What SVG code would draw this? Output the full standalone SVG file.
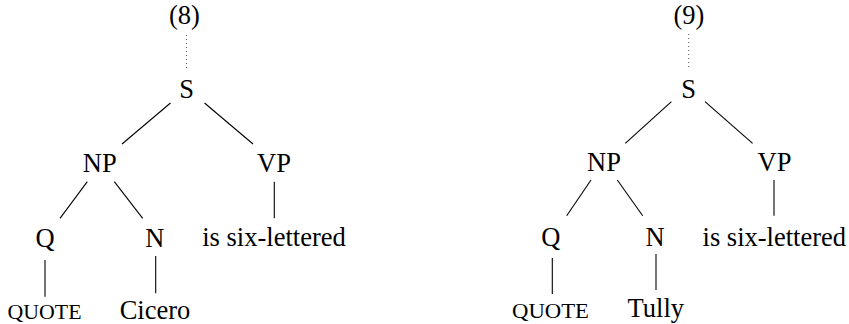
<svg xmlns="http://www.w3.org/2000/svg" width="849" height="324" viewBox="0 0 849 324">
<style>
  text { font-family: "Liberation Serif", "DejaVu Serif", "Times New Roman", Tinos, serif; font-size: 26.5px; fill: #000; text-anchor: middle; }
  text.sc { font-size: 20px; }
  .edge { stroke: #000; stroke-width: 1.1; fill: none; }
  .dot { stroke: #555; stroke-width: 1; stroke-dasharray: 1 3; fill: none; }
</style>
<rect width="849" height="324" fill="#fff"/>
<g id="connectors">
  <line class="dot" x1="186.5" y1="35" x2="186.5" y2="71"/>
  <line class="edge" x1="170.5" y1="103" x2="122" y2="144"/>
  <line class="edge" x1="204.5" y1="103" x2="253" y2="144"/>
  <line class="edge" x1="87.3" y1="181.7" x2="60" y2="218.3"/>
  <line class="edge" x1="114.3" y1="181.7" x2="142.7" y2="218.3"/>
  <line class="edge" x1="274.3" y1="181.7" x2="274.3" y2="218.3"/>
  <line class="edge" x1="45" y1="260" x2="45" y2="296.7"/>
  <line class="edge" x1="155.7" y1="256" x2="155.7" y2="293.3"/>
  <line class="dot" x1="688.7" y1="34" x2="688.7" y2="69"/>
  <line class="edge" x1="671.4" y1="101.7" x2="625.3" y2="143.3"/>
  <line class="edge" x1="705" y1="101.7" x2="752.6" y2="143.3"/>
  <line class="edge" x1="591" y1="180" x2="566.7" y2="215.7"/>
  <line class="edge" x1="617.3" y1="180" x2="642.7" y2="215.7"/>
  <line class="edge" x1="774" y1="180" x2="774" y2="215.7"/>
  <line class="edge" x1="552.3" y1="258" x2="552.3" y2="294"/>
  <line class="edge" x1="656" y1="254" x2="656" y2="290"/>
</g>
<g id="t8-label"><text x="184.5" y="24" font-family="Liberation Serif, serif">(8)</text></g>
<g id="t8-S"><text x="186.7" y="98">S</text></g>
<g id="t8-NP"><text x="99.7" y="172">NP</text></g>
<g id="t8-VP"><text x="274" y="172">VP</text></g>
<g id="t8-Q"><text x="45" y="246.5">Q</text></g>
<g id="t8-N"><text x="154.7" y="246.5">N</text></g>
<g id="t8-VPtext"><text x="274" y="246">is six-lettered</text></g>
<g id="t8-QUOTE"><text class="sc" x="44.5" y="318.5" textLength="74" lengthAdjust="spacingAndGlyphs">QUOTE</text></g>
<g id="t8-Cicero"><text x="155" y="318.5">Cicero</text></g>

<g id="t9-label"><text x="689" y="24">(9)</text></g>
<g id="t9-S"><text x="688.6" y="98">S</text></g>
<g id="t9-NP"><text x="604" y="171">NP</text></g>
<g id="t9-VP"><text x="774.5" y="171">VP</text></g>
<g id="t9-Q"><text x="550.7" y="246">Q</text></g>
<g id="t9-N"><text x="655" y="246">N</text></g>
<g id="t9-VPtext"><text x="774.3" y="246">is six-lettered</text></g>
<g id="t9-QUOTE"><text class="sc" x="550.5" y="317.5" textLength="77" lengthAdjust="spacingAndGlyphs">QUOTE</text></g>
<g id="t9-Tully"><text x="655.8" y="316.5">Tully</text></g>
</svg>
